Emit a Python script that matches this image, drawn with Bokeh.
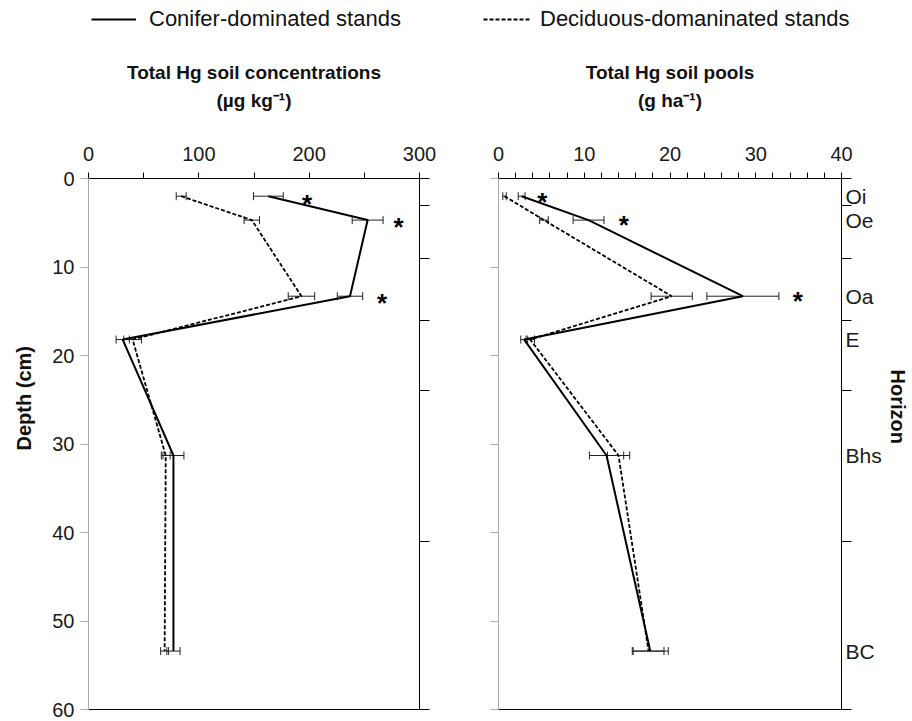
from bokeh.plotting import figure
from bokeh.models import (ColumnDataSource, Whisker, TeeHead, FixedTicker, LinearAxis,
                          Range1d, Title, Legend, LegendItem)
from bokeh.layouts import row, column
from bokeh.embed import file_html
from bokeh.resources import INLINE
from bokeh.core.properties import value

# ---------------- data ----------------
horizons = ["Oi", "Oe", "Oa", "E", "Bhs", "BC"]
depth = [2.0, 4.7, 13.3, 18.2, 31.3, 53.4]
horizon_bounds = [0, 3, 9, 16, 24, 41, 60]
depth_ticks = [0, 10, 20, 30, 40, 50, 60]

conc_conifer = [163, 253, 237, 31, 77, 77]
conc_conifer_err = [13.5, 14, 11.5, 6, 9.5, 6]
conc_decid = [84, 148, 193, 40, 70, 69]
conc_decid_err = [4.5, 7, 12, 8, 4, 3.6]
conc_sig_x = [198, 281, 266]
conc_sig_depth = [2.1, 4.7, 13.3]
conc_ticks = [0, 100, 200, 300]
conc_minor = [50, 150, 250]

pool_conifer = [2.7, 10.5, 28.5, 3.0, 12.6, 17.7]
pool_conifer_err = [0.4, 1.8, 4.2, 0.4, 2.0, 2.1]
pool_decid = [0.7, 5.3, 20.2, 3.7, 14.0, 17.5]
pool_decid_err = [0.2, 0.5, 2.4, 0.5, 1.3, 1.8]
pool_sig_x = [5.1, 14.6, 34.9]
pool_sig_depth = [1.9, 4.5, 13.1]
pool_ticks = [0, 10, 20, 30, 40]
pool_minor = [2, 4, 6, 8, 12, 14, 16, 18, 22, 24, 26, 28, 32, 34, 36, 38]

conc_title = "Total Hg soil concentrations\n(µg kg⁻¹)"
pool_title = "Total Hg soil pools\n(g ha⁻¹)"
conifer_label = "Conifer-dominated stands"
decid_label = "Deciduous-domaninated stands"

FONT = "Liberation Sans"
HEAD = 40          # legend strip height
H = 721 - HEAD     # height of the two panels

CON_STYLE = dict(line_color="black", line_width=2)
DEC_STYLE = dict(line_color="black", line_width=1.8, line_dash="4 2")


def make_source(con, con_err, dec, dec_err):
    return ColumnDataSource(dict(
        depth=depth, con=con, dec=dec,
        con_lo=[v - e for v, e in zip(con, con_err)],
        con_hi=[v + e for v, e in zip(con, con_err)],
        dec_lo=[v - e for v, e in zip(dec, dec_err)],
        dec_hi=[v + e for v, e in zip(dec, dec_err)],
    ))


def panel(xmax, ticks, minor, src, sig_x, sig_d, xtitle, width, lb, rb, first):
    p = figure(width=width, height=H, x_range=Range1d(0, xmax), y_range=Range1d(60, 0),
               x_axis_type=None, y_axis_type=None, output_backend="svg",
               toolbar_location=None, min_border_left=lb, min_border_right=rb,
               min_border_top=178 - HEAD, min_border_bottom=12)
    p.outline_line_color = None

    top = LinearAxis(ticker=FixedTicker(ticks=ticks, minor_ticks=minor),
                     major_tick_out=6, major_tick_in=0, minor_tick_out=6, minor_tick_in=0,
                     major_label_standoff=12, axis_line_color="black",
                     major_tick_line_color="black", minor_tick_line_color="black",
                     major_label_text_font=FONT, major_label_text_font_size="20px",
                     major_label_text_color="#1a1a1a",
                     axis_label=xtitle, axis_label_standoff=33,
                     axis_label_text_font=FONT, axis_label_text_font_size="19px",
                     axis_label_text_font_style="bold", axis_label_text_color="#111111",
                     axis_label_text_line_height=1.3)
    p.add_layout(top, "above")

    if first:
        left = LinearAxis(ticker=FixedTicker(ticks=depth_ticks), major_tick_out=8,
                          major_tick_in=0, major_label_standoff=6,
                          major_label_text_font=FONT, major_label_text_font_size="20px",
                          major_label_text_color="#1a1a1a")
    else:
        left = LinearAxis(ticker=FixedTicker(ticks=[], minor_ticks=depth_ticks),
                          major_tick_out=0, minor_tick_out=8, minor_tick_in=0,
                          major_label_standoff=0)
    left.axis_line_color = "#aaaaaa"
    left.major_tick_line_color = "#aaaaaa"
    left.minor_tick_line_color = "#aaaaaa"
    p.add_layout(left, "left")

    if not first:
        right = LinearAxis(ticker=FixedTicker(ticks=depth, minor_ticks=horizon_bounds),
                           major_label_overrides={d: h for d, h in zip(depth, horizons)},
                           major_label_text_font=FONT, major_label_text_font_size="21px",
                           major_label_text_color="#1a1a1a", major_label_standoff=-6)
    else:
        right = LinearAxis(ticker=FixedTicker(ticks=[], minor_ticks=horizon_bounds),
                           major_label_standoff=0)
    right.major_tick_out = 0
    right.major_tick_in = 0
    right.minor_tick_out = 10
    right.minor_tick_in = 0
    right.axis_line_color = "black"
    right.minor_tick_line_color = "black"
    p.add_layout(right, "right")

    bottom = LinearAxis(ticker=FixedTicker(ticks=[]), major_tick_out=0, major_tick_in=0,
                        minor_tick_out=0, minor_tick_in=0, major_label_standoff=0,
                        axis_line_color="black")
    p.add_layout(bottom, "below")

    p.line("dec", "depth", source=src, **DEC_STYLE)
    p.line("con", "depth", source=src, **CON_STYLE)
    for lo, hi in (("dec_lo", "dec_hi"), ("con_lo", "con_hi")):
        p.add_layout(Whisker(source=src, base="depth", lower=lo, upper=hi, dimension="width",
                             line_color="#222222", line_width=1,
                             upper_head=TeeHead(size=8, line_color="#222222", line_width=1),
                             lower_head=TeeHead(size=8, line_color="#222222", line_width=1)))
    p.text(x=sig_x, y=sig_d, text=["*"] * len(sig_x), text_font=value(FONT),
           text_font_style="bold", text_font_size="26px", text_align="center",
           text_baseline="middle", y_offset=7, text_color="black")
    return p


# frames (page px): p1 87..419, p2 498..842, both 178..709
W1, LB1, RB1 = 450, 87, 31
W2, LB2, RB2 = 462, 48, 70

conc_src = make_source(conc_conifer, conc_conifer_err, conc_decid, conc_decid_err)
pool_src = make_source(pool_conifer, pool_conifer_err, pool_decid, pool_decid_err)

p1 = panel(300, conc_ticks, conc_minor, conc_src, conc_sig_x, conc_sig_depth, conc_title,
           W1, LB1, RB1, True)
p2 = panel(40, pool_ticks, pool_minor, pool_src, pool_sig_x, pool_sig_depth, pool_title,
           W2, LB2, RB2, False)

p1.add_layout(Title(text="Depth (cm)", align="left", offset=259, vertical_align="top",
                    standoff=25, text_font=FONT, text_font_size="20px",
                    text_font_style="bold", text_color="#111111"), "left")
p2.add_layout(Title(text="Horizon", align="left", offset=191, vertical_align="bottom",
                    standoff=4, text_font=FONT, text_font_size="20px",
                    text_font_style="bold", text_color="#111111"), "right")

# ---- legend strip on top (series drawn outside its 0..1 view, only legend shows) ----
head = figure(width=912, height=HEAD, x_range=Range1d(0, 1), y_range=Range1d(0, 1),
              x_axis_type=None, y_axis_type=None, output_backend="svg",
              toolbar_location=None, min_border=0)
head.outline_line_color = None
h_con = head.line("con", "depth", source=conc_src, **CON_STYLE)
h_dec = head.line("dec", "depth", source=conc_src, **DEC_STYLE)
for r, txt, x0, gw, so in ((h_con, conifer_label, 91, 45, 13),
                           (h_dec, decid_label, 483, 47, 10)):
    head.add_layout(Legend(items=[LegendItem(label=txt, renderers=[r])],
                           location=(x0, HEAD - 32), orientation="horizontal",
                           border_line_color=None, background_fill_alpha=0,
                           padding=0, margin=0,
                           glyph_width=gw, glyph_height=24, label_height=24,
                           label_standoff=so, label_text_font=FONT,
                           label_text_font_size="22px", label_text_color="#111111",
                           label_text_baseline="middle"))

layout = column(head, row(p1, p2))
open("out.html", "w").write(file_html(layout, INLINE))
